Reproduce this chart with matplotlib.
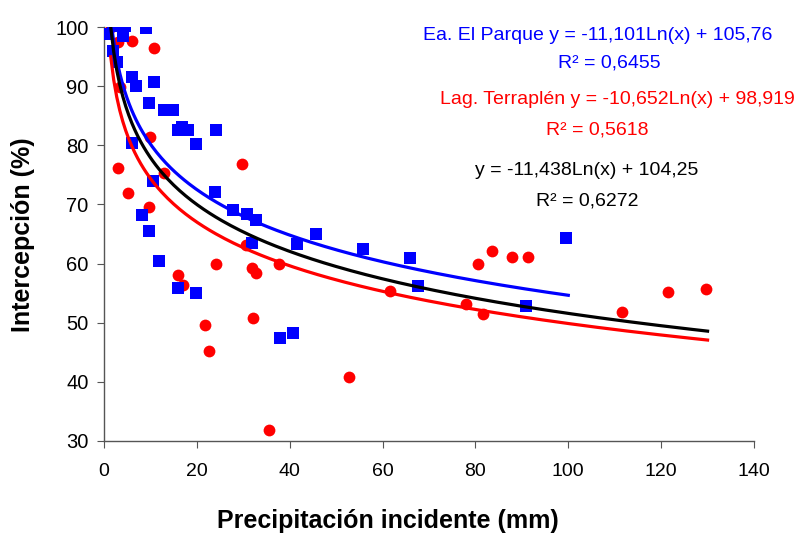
import numpy as np
import matplotlib
matplotlib.use("Agg")
import matplotlib.pyplot as plt

plt.rcParams['font.family'] = ['Liberation Sans', 'DejaVu Sans']

# Ea. El Parque (blue squares)
parque_x = [0.5, 1.9, 3.0, 4.5, 4.0, 9.0, 2.0, 2.8, 6.0, 7.0, 10.8, 9.7, 12.9, 14.9,
            16.0, 16.8, 18.1, 24.1, 19.8, 6.0, 10.6, 23.9, 27.8, 30.8, 32.7, 8.2, 9.7,
            11.9, 15.9, 19.8, 31.9, 41.6, 45.7, 37.9, 40.7, 55.8, 65.9, 67.6, 90.8, 99.5]
parque_y = [98.8, 100.2, 100.2, 100.2, 98.5, 99.8, 96.0, 94.0, 91.5, 90.0, 90.7, 87.2, 86.0, 86.0,
            82.6, 83.1, 82.6, 82.6, 80.2, 80.4, 74.0, 72.1, 69.0, 68.4, 67.4, 68.2, 65.5,
            60.4, 55.9, 55.0, 63.5, 63.3, 65.0, 47.4, 48.3, 62.5, 60.9, 56.2, 52.8, 64.3]

# Lag. Terraplén (red circles)
terraplen_x = [1.5, 3.0, 6.0, 10.8, 3.5, 9.9, 3.0, 5.2, 12.9, 29.7, 9.7, 15.9, 17.0, 24.1,
               31.9, 32.7, 37.7, 30.5, 21.8, 22.6, 32.1, 35.5, 61.6, 52.8, 78.0, 81.6,
               80.5, 83.6, 87.9, 91.3, 121.5, 129.7, 111.6]
terraplen_y = [100.0, 97.5, 97.6, 96.4, 89.8, 81.4, 76.2, 72.0, 75.3, 76.8, 69.5, 58.1, 56.4, 60.0,
               59.2, 58.4, 59.9, 63.1, 49.6, 45.2, 50.8, 31.8, 55.4, 40.8, 53.2, 51.5,
               60.0, 62.2, 61.1, 61.1, 55.2, 55.7, 51.8]

# logarithmic trendlines: (colour, slope, intercept, x start, x end)
fits = [
    ('#0000ff', -11.101, 105.76, 1.45, 100),
    ('#ff0000', -10.652, 98.919, 1.45, 130),
    ('#000000', -11.438, 104.25, 1.45, 130),
]

W, H = 803, 533
fig = plt.figure(figsize=(W / 100, H / 100), dpi=100)
ax = fig.add_axes([104 / W, 92 / H, 650 / W, 414 / H])

ax.scatter(terraplen_x, terraplen_y, s=72, marker='o', color='#ff0000', linewidths=0, zorder=2)
ax.scatter(parque_x, parque_y, s=72, marker='s', color='#0000ff', linewidths=0, zorder=3)

for color, a, b, x0, x1 in fits:
    xs = np.linspace(x0, x1, 200)
    ax.plot(xs, a * np.log(xs) + b, color=color, lw=2.3, zorder=4)

ax.set_xlim(0, 140)
ax.set_ylim(30, 100)
ax.set_xticks(range(0, 141, 20))
ax.set_yticks(range(30, 101, 10))
for s in ['top', 'right']:
    ax.spines[s].set_visible(False)
for s in ['left', 'bottom']:
    ax.spines[s].set_color('#555555')
    ax.spines[s].set_linewidth(1.0)
ax.tick_params(direction='out', length=5, color='#555555', labelsize=14.5)
ax.tick_params(axis='y', pad=6)
ax.tick_params(axis='x', pad=11, labelsize=14)


def px_text(x, y, s, **kw):
    fig.text(x / W, 1 - y / H, s, **kw)


px_text(388, 521, 'Precipitación incidente (mm)', fontsize=18, fontweight='bold',
        ha='center', va='center')
px_text(23, 235, 'Intercepción (%)', fontsize=18, fontweight='bold',
        ha='center', va='center', rotation=90)

px_text(772, 35, 'Ea. El Parque y = -11,101Ln(x) + 105,76', color='#0000ff',
        fontsize=14, ha='right', va='center')
px_text(609, 63, 'R² = 0,6455', color='#0000ff', fontsize=14, ha='center', va='center')
px_text(795, 100, 'Lag. Terraplén y = -10,652Ln(x) + 98,919', color='#ff0000',
        fontsize=14, ha='right', va='center')
px_text(597, 130, 'R² = 0,5618', color='#ff0000', fontsize=14, ha='center', va='center')
px_text(587, 171, 'y = -11,438Ln(x) + 104,25', color='#000000', fontsize=14,
        ha='center', va='center')
px_text(587, 201, 'R² = 0,6272', color='#000000', fontsize=14, ha='center', va='center')

fig.savefig('out.png', dpi=100)
